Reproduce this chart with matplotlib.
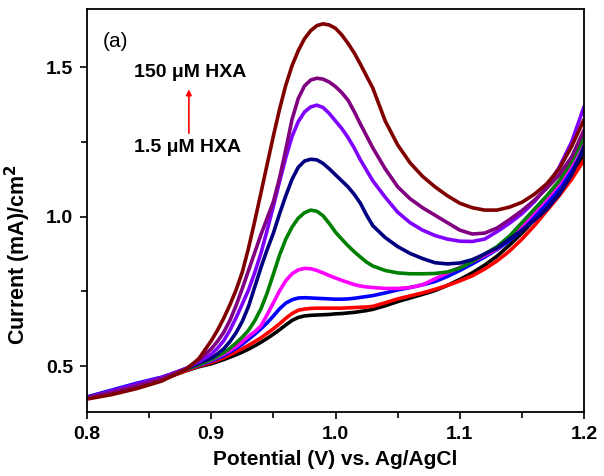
import numpy as np
import matplotlib
matplotlib.use('Agg')
import matplotlib.pyplot as plt
from matplotlib.ticker import MultipleLocator

# potential (V vs Ag/AgCl)
potential = ([0.80, 0.82, 0.84, 0.86, 0.88, 0.89]
             + [0.900, 0.905, 0.910, 0.915, 0.920, 0.925, 0.930, 0.935, 0.940, 0.945,
                0.950, 0.955, 0.960, 0.965, 0.970, 0.975, 0.980, 0.985, 0.990, 0.995,
                1.000, 1.005, 1.010, 1.015, 1.020, 1.025, 1.030]
             + [1.04, 1.05, 1.06, 1.07, 1.08, 1.09, 1.10, 1.11, 1.12, 1.13, 1.14, 1.15,
                1.16, 1.17, 1.18, 1.19, 1.20])

# current density (mA/cm2), 1.5 uM ... 150 uM HXA
black = [0.395, 0.413, 0.433, 0.455, 0.485, 0.498,
         0.508, 0.515, 0.522, 0.530, 0.538, 0.547, 0.557, 0.568, 0.580, 0.593,
         0.607, 0.622, 0.638, 0.653, 0.663, 0.668, 0.670, 0.671, 0.672, 0.673,
         0.675, 0.676, 0.678, 0.680, 0.683, 0.686, 0.690,
         0.702, 0.716, 0.728, 0.740, 0.753, 0.770, 0.790, 0.812, 0.838, 0.868, 0.905, 0.945,
         0.990, 1.040, 1.090, 1.145, 1.205]
red = [0.395, 0.413, 0.433, 0.455, 0.486, 0.500,
       0.512, 0.520, 0.528, 0.538, 0.548, 0.559, 0.570, 0.582, 0.595, 0.610,
       0.625, 0.642, 0.660, 0.676, 0.687, 0.691, 0.693, 0.694, 0.694, 0.694,
       0.694, 0.694, 0.695, 0.696, 0.697, 0.698, 0.700,
       0.712, 0.725, 0.735, 0.745, 0.757, 0.770, 0.785, 0.802, 0.825, 0.852, 0.885, 0.925,
       0.970, 1.020, 1.070, 1.125, 1.190]
blue = [0.397, 0.420, 0.443, 0.463, 0.490, 0.503,
        0.517, 0.526, 0.535, 0.547, 0.560, 0.574, 0.590, 0.607, 0.625, 0.645,
        0.668, 0.692, 0.711, 0.722, 0.728, 0.729, 0.728, 0.727, 0.726, 0.725,
        0.724, 0.724, 0.725, 0.727, 0.730, 0.733, 0.736,
        0.745, 0.755, 0.763, 0.772, 0.783, 0.800, 0.820, 0.842, 0.865, 0.890, 0.920, 0.955,
        1.000, 1.045, 1.095, 1.155, 1.225]
magenta = [0.395, 0.416, 0.438, 0.460, 0.490, 0.505,
           0.520, 0.530, 0.540, 0.552, 0.566, 0.582, 0.600, 0.615, 0.635, 0.672,
           0.712, 0.752, 0.786, 0.809, 0.822, 0.827, 0.826, 0.820, 0.812, 0.803,
           0.795, 0.787, 0.780, 0.773, 0.768, 0.765, 0.763,
           0.760, 0.760, 0.763, 0.772, 0.792, 0.812, 0.830, 0.850, 0.870, 0.892, 0.930, 0.970,
           1.015, 1.060, 1.110, 1.175, 1.260]
green = [0.395, 0.415, 0.436, 0.460, 0.490, 0.505,
         0.522, 0.533, 0.545, 0.560, 0.578, 0.597, 0.620, 0.652, 0.692, 0.745,
         0.808, 0.872, 0.925, 0.965, 0.995, 1.013, 1.022, 1.018, 1.003, 0.977,
         0.948, 0.925, 0.903, 0.883, 0.865, 0.848, 0.835,
         0.820, 0.812, 0.809, 0.809, 0.810, 0.815, 0.828, 0.850, 0.875, 0.900, 0.935, 0.980,
         1.025, 1.070, 1.120, 1.185, 1.265]
navy = [0.396, 0.417, 0.438, 0.460, 0.492, 0.510,
        0.527, 0.541, 0.558, 0.582, 0.612, 0.650, 0.700, 0.765, 0.830, 0.890,
        0.945, 1.010, 1.070, 1.125, 1.165, 1.186, 1.192, 1.190, 1.178, 1.160,
        1.140, 1.120, 1.100, 1.075, 1.045, 1.005, 0.970,
        0.930, 0.900, 0.877, 0.860, 0.846, 0.842, 0.845, 0.856, 0.875, 0.895, 0.925, 0.955,
        0.988, 1.025, 1.075, 1.140, 1.235]
violet = [0.395, 0.417, 0.440, 0.462, 0.493, 0.515,
          0.540, 0.560, 0.585, 0.620, 0.662, 0.708, 0.755, 0.813, 0.878, 0.955,
          1.035, 1.118, 1.198, 1.268, 1.318, 1.350, 1.367, 1.373, 1.365, 1.345,
          1.320, 1.295, 1.265, 1.230, 1.190, 1.155, 1.120,
          1.065, 1.015, 0.980, 0.955, 0.937, 0.925, 0.918, 0.917, 0.925, 0.950, 0.978, 1.010,
          1.050, 1.100, 1.165, 1.250, 1.368]
purple = [0.393, 0.413, 0.434, 0.458, 0.492, 0.520,
          0.558, 0.583, 0.613, 0.653, 0.703, 0.760, 0.820, 0.880, 0.940, 0.995,
          1.050, 1.130, 1.225, 1.325, 1.395, 1.437, 1.457, 1.463, 1.460, 1.450,
          1.435, 1.415, 1.390, 1.352, 1.310, 1.270, 1.230,
          1.160, 1.100, 1.060, 1.030, 1.005, 0.980, 0.955, 0.942, 0.945, 0.962, 0.990, 1.020,
          1.055, 1.095, 1.140, 1.200, 1.290]
maroon = [0.390, 0.405, 0.425, 0.450, 0.490, 0.525,
          0.585, 0.620, 0.660, 0.705, 0.755, 0.815, 0.895, 0.985, 1.080, 1.175,
          1.270, 1.360, 1.440, 1.505, 1.555, 1.595, 1.622, 1.639, 1.645, 1.641,
          1.630, 1.608, 1.580, 1.548, 1.510, 1.470, 1.430,
          1.320, 1.240, 1.180, 1.135, 1.100, 1.070, 1.045, 1.030, 1.022, 1.022, 1.032, 1.048,
          1.075, 1.110, 1.160, 1.235, 1.325]

series = [(black, 'black'), (red, '#ff0000'), (blue, '#0000ff'), (magenta, '#ff00ff'),
          (green, '#008000'), (navy, '#000080'), (violet, '#8000ff'), (purple, '#800080'),
          (maroon, '#800000')]

plt.rcParams.update({
    'font.family': ['Liberation Sans', 'DejaVu Sans'],
    'font.weight': 'bold',
})

fig = plt.figure(figsize=(6.04, 4.76), dpi=100)
ax = fig.add_axes([0.144, 0.134, 0.823, 0.848])

for vals, col in series:
    ax.plot(potential, vals, color=col, lw=2.6, solid_capstyle='round', solid_joinstyle='round')

ax.set_xlim(0.8, 1.2)
ax.set_ylim(0.346, 1.696)
ax.xaxis.set_minor_locator(MultipleLocator(0.05))
ax.yaxis.set_major_locator(MultipleLocator(0.5))
ax.yaxis.set_minor_locator(MultipleLocator(0.25))
ax.set_xticks(np.arange(0.8, 1.21, 0.1))
ax.set_xticklabels(['0.8', '0.9', '1.0', '1.1', '1.2'])
ax.tick_params(which='both', direction='out', width=1.2, labelsize=14, pad=5)
ax.tick_params(which='major', length=5)
ax.tick_params(which='minor', length=4)
for lbl in ax.get_xticklabels() + ax.get_yticklabels():
    lbl.set_fontweight('bold')
for sp in ax.spines.values():
    sp.set_linewidth(1.3)

ax.set_xlabel('Potential (V) vs. Ag/AgCl', fontsize=15, fontweight='bold', labelpad=5)
ax.set_ylabel('Current (mA)/cm$^{\\mathbf{2}}$', fontsize=15.5, fontweight='bold')
ax.yaxis.set_label_coords(-0.108, 0.39)

ax.text(0.8125, 1.585, '(a)', fontsize=15, fontweight='normal', va='center', ha='left')
ax.text(0.838, 1.481, '150 \u03bcM HXA', fontsize=14, fontweight='bold', va='center', ha='left')
ax.text(0.838, 1.23, '1.5 \u03bcM HXA', fontsize=14, fontweight='bold', va='center', ha='left')
ax.annotate('', xy=(0.882, 1.435), xytext=(0.882, 1.27),
            arrowprops=dict(arrowstyle='-|>', color='red', lw=1.2, mutation_scale=8))

fig.savefig('out.png', dpi=100)
